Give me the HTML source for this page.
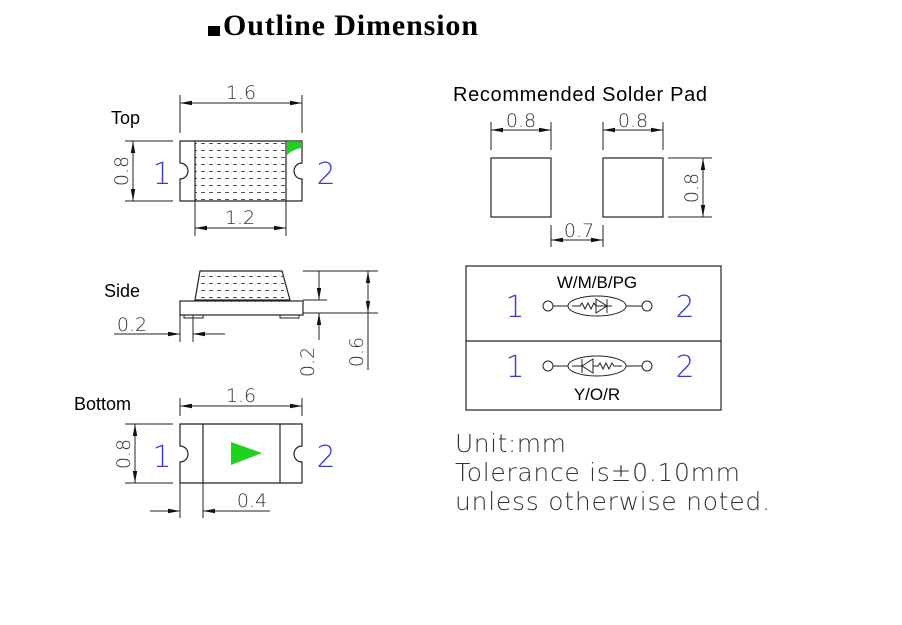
<!DOCTYPE html>
<html><head><meta charset="utf-8"><style>
html,body{margin:0;padding:0;background:#fff;}
svg{display:block;}
.l{stroke:#222;stroke-width:1.2;fill:none;}
.d{stroke:#222;stroke-width:1;fill:none;}
.dim{font-family:"DejaVu Sans","Liberation Sans",sans-serif;font-size:19px;fill:#333;font-weight:200;}
.lab{font-family:"Liberation Sans",sans-serif;font-size:18px;fill:#000;}
.blue{font-family:"DejaVu Sans","Liberation Sans",sans-serif;font-size:30px;fill:#3a3ad8;font-weight:200;}
.note{font-family:"DejaVu Sans","Liberation Sans",sans-serif;font-size:25px;fill:#333;font-weight:200;}
</style></head><body>
<svg width="902" height="625" viewBox="0 0 902 625" xmlns="http://www.w3.org/2000/svg">
<defs>
<marker id="a" viewBox="0 0 12 6" refX="12" refY="3" markerWidth="12" markerHeight="6" markerUnits="userSpaceOnUse" orient="auto-start-reverse"><path d="M0,0.8 L12,3 L0,5.2z" fill="#111"/></marker>
<pattern id="dots" width="8" height="7" patternUnits="userSpaceOnUse"><path d="M1,3.5h4" stroke="#555" stroke-width="1"/></pattern>
</defs>
<!-- title -->
<rect x="208" y="26" width="12" height="10" fill="#000"/>
<text x="223" y="35" font-family="Liberation Serif,serif" font-weight="bold" font-size="30" textLength="255">Outline Dimension</text>

<!-- TOP view -->
<text class="lab" x="111" y="124">Top</text>
<line class="d" x1="180" y1="95" x2="180" y2="133"/><line class="d" x1="302" y1="95" x2="302" y2="133"/>
<line class="d" x1="180" y1="103" x2="302" y2="103" marker-start="url(#a)" marker-end="url(#a)"/>
<text class="dim" x="241" y="99" text-anchor="middle">1.6</text>
<path class="l" d="M180,141 H302 V163 A8,8 0 0 0 302,179 V201 H180 V179 A8,8 0 0 0 180,163 Z"/>
<rect x="195" y="142" width="91" height="58" fill="url(#dots)"/>
<line class="l" x1="195" y1="141" x2="195" y2="201"/><line class="l" x1="286" y1="141" x2="286" y2="201"/>
<path d="M287,142 H301 V148 Q292,150 287,155 Z" fill="#1ed21e"/>
<line class="d" x1="125" y1="141" x2="173" y2="141"/><line class="d" x1="125" y1="201" x2="173" y2="201"/>
<line class="d" x1="133" y1="141" x2="133" y2="201" marker-start="url(#a)" marker-end="url(#a)"/>
<text class="dim" transform="translate(128,171) rotate(-90)" text-anchor="middle">0.8</text>
<text class="blue" x="162" y="184" text-anchor="middle">1</text>
<text class="blue" x="326" y="184" text-anchor="middle">2</text>
<line class="d" x1="195" y1="201" x2="195" y2="236"/><line class="d" x1="286" y1="201" x2="286" y2="236"/>
<line class="d" x1="195" y1="228" x2="286" y2="228" marker-start="url(#a)" marker-end="url(#a)"/>
<text class="dim" x="240" y="224" text-anchor="middle">1.2</text>

<!-- SIDE view -->
<text class="lab" x="104" y="297">Side</text>
<path class="l" d="M200,271 H282 L290,300 H195 Z"/>
<rect x="198" y="274" width="86" height="25" fill="url(#dots)"/>
<rect class="l" x="180" y="301" width="123" height="14"/>
<rect x="184" y="315" width="19" height="3" fill="none" stroke="#222"/>
<rect x="280" y="315" width="19" height="3" fill="none" stroke="#222"/>
<line class="d" x1="303" y1="271" x2="378" y2="271"/>
<line class="d" x1="303" y1="300" x2="327" y2="300"/>
<line class="d" x1="303" y1="313" x2="378" y2="313"/>
<line class="d" x1="319" y1="271" x2="319" y2="300" marker-end="url(#a)"/>
<line class="d" x1="319" y1="340" x2="319" y2="313" marker-end="url(#a)"/>
<line class="d" x1="368" y1="271" x2="368" y2="313" marker-start="url(#a)" marker-end="url(#a)"/>
<line class="d" x1="368" y1="313" x2="368" y2="370"/>
<text class="dim" transform="translate(314,362) rotate(-90)" text-anchor="middle">0.2</text>
<text class="dim" transform="translate(363,352) rotate(-90)" text-anchor="middle">0.6</text>
<line class="d" x1="180" y1="315" x2="180" y2="342"/><line class="d" x1="193" y1="315" x2="193" y2="342"/>
<line class="d" x1="114" y1="334" x2="180" y2="334" marker-end="url(#a)"/>
<line class="d" x1="225" y1="334" x2="193" y2="334" marker-end="url(#a)"/>
<text class="dim" x="132" y="331" text-anchor="middle">0.2</text>

<!-- BOTTOM view -->
<text class="lab" x="74" y="410">Bottom</text>
<line class="d" x1="180" y1="398" x2="180" y2="416"/><line class="d" x1="302" y1="398" x2="302" y2="416"/>
<line class="d" x1="180" y1="406" x2="302" y2="406" marker-start="url(#a)" marker-end="url(#a)"/>
<text class="dim" x="241" y="402" text-anchor="middle">1.6</text>
<path class="l" d="M180,424 H302 V446 A8,8 0 0 0 302,462 V483 H180 V462 A8,8 0 0 0 180,446 Z"/>
<line class="l" x1="203" y1="424" x2="203" y2="483"/><line class="l" x1="280" y1="424" x2="280" y2="483"/>
<path d="M231,442 L262,453 L231,465 Z" fill="#1ed21e"/>
<line class="d" x1="125" y1="424" x2="173" y2="424"/><line class="d" x1="125" y1="483" x2="173" y2="483"/>
<line class="d" x1="135" y1="424" x2="135" y2="483" marker-start="url(#a)" marker-end="url(#a)"/>
<text class="dim" transform="translate(130,454) rotate(-90)" text-anchor="middle">0.8</text>
<text class="blue" x="162" y="467" text-anchor="middle">1</text>
<text class="blue" x="326" y="467" text-anchor="middle">2</text>
<line class="d" x1="180" y1="483" x2="180" y2="518"/><line class="d" x1="203" y1="483" x2="203" y2="518"/>
<line class="d" x1="150" y1="511" x2="180" y2="511" marker-end="url(#a)"/>
<line class="d" x1="270" y1="511" x2="203" y2="511" marker-end="url(#a)"/>
<text class="dim" x="252" y="507" text-anchor="middle">0.4</text>

<!-- Solder pad -->
<text class="lab" x="453" y="101" style="font-size:20px" textLength="254">Recommended Solder Pad</text>
<rect class="l" x="491" y="158" width="60" height="59"/>
<rect class="l" x="603" y="158" width="60" height="59"/>
<line class="d" x1="491" y1="122" x2="491" y2="150"/><line class="d" x1="551" y1="122" x2="551" y2="150"/>
<line class="d" x1="603" y1="122" x2="603" y2="150"/><line class="d" x1="663" y1="122" x2="663" y2="150"/>
<line class="d" x1="491" y1="130" x2="551" y2="130" marker-start="url(#a)" marker-end="url(#a)"/>
<line class="d" x1="603" y1="130" x2="663" y2="130" marker-start="url(#a)" marker-end="url(#a)"/>
<text class="dim" x="521" y="127" text-anchor="middle">0.8</text>
<text class="dim" x="633" y="127" text-anchor="middle">0.8</text>
<line class="d" x1="551" y1="225" x2="551" y2="247"/><line class="d" x1="603" y1="225" x2="603" y2="247"/>
<line class="d" x1="551" y1="240" x2="603" y2="240" marker-start="url(#a)" marker-end="url(#a)"/>
<text class="dim" x="579" y="237" text-anchor="middle">0.7</text>
<line class="d" x1="668" y1="158" x2="712" y2="158"/><line class="d" x1="668" y1="217" x2="712" y2="217"/>
<line class="d" x1="703" y1="158" x2="703" y2="217" marker-start="url(#a)" marker-end="url(#a)"/>
<text class="dim" transform="translate(698,188) rotate(-90)" text-anchor="middle">0.8</text>

<!-- circuit box -->
<rect class="l" x="466" y="266" width="255" height="144"/>
<line class="l" x1="466" y1="341" x2="721" y2="341"/>
<text class="lab" x="597" y="288" text-anchor="middle" style="font-size:17px">W/M/B/PG</text>
<text class="blue" x="515" y="317" text-anchor="middle">1</text>
<text class="blue" x="685" y="317" text-anchor="middle">2</text>
<circle class="d" cx="548" cy="306" r="5"/><circle class="d" cx="647" cy="306" r="5"/>
<line class="d" x1="553" y1="306" x2="642" y2="306"/>
<ellipse cx="597" cy="306" rx="29" ry="10" fill="#fff" stroke="#222"/>
<path class="d" d="M572,306 H580 l2,-3 l3,6 l3,-6 l3,6 l3,-6 l2,3 H612"/>
<path class="d" d="M596,299 V313 L607,306 Z M607,299 V313"/>
<text class="blue" x="515" y="377" text-anchor="middle">1</text>
<text class="blue" x="685" y="377" text-anchor="middle">2</text>
<circle class="d" cx="548" cy="366" r="5"/><circle class="d" cx="647" cy="366" r="5"/>
<line class="d" x1="553" y1="366" x2="642" y2="366"/>
<ellipse cx="597" cy="366" rx="29" ry="10" fill="#fff" stroke="#222"/>
<path class="d" d="M572,366 H582 M582,359 V373 M593,359 V373 L582,366 Z M593,366 H598 l2,-3 l3,6 l3,-6 l3,6 l3,-6 l2,3 H622"/>
<text class="lab" x="597" y="400" text-anchor="middle" style="font-size:17px">Y/O/R</text>

<!-- notes -->
<text class="note" x="455" y="452" textLength="111">Unit:mm</text>
<text class="note" x="455" y="481" textLength="285">Tolerance is±0.10mm</text>
<text class="note" x="455" y="510" textLength="315">unless otherwise noted.</text>
</svg>
</body></html>
